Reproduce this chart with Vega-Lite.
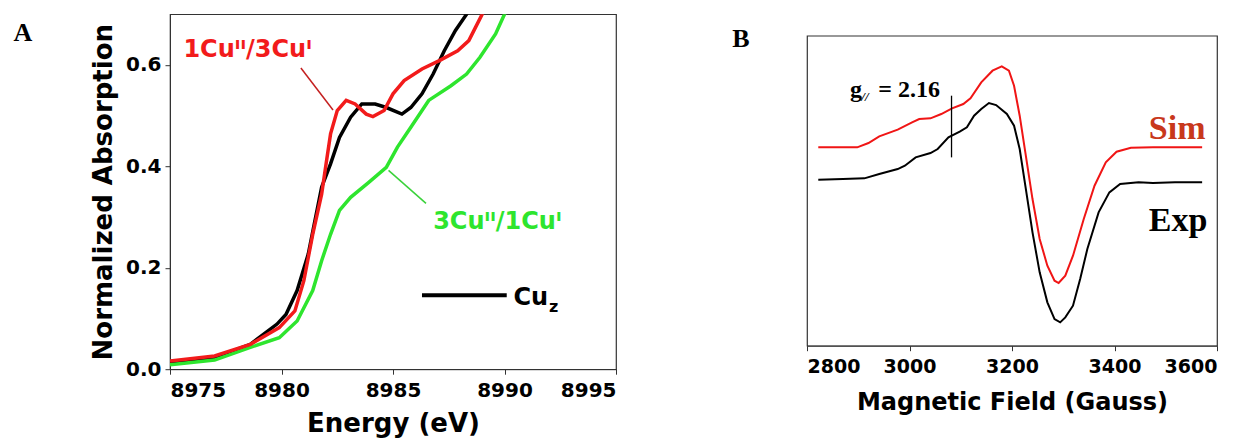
{
  "$schema": "https://vega.github.io/schema/vega-lite/v6.json",
  "padding": {"left": 12, "top": 13, "right": 3, "bottom": 2},
  "background": "white",
  "spacing": 113,
  "center": true,
  "config": {
    "view": {"stroke": "#333", "strokeWidth": 1.2},
    "axis": {
      "grid": false,
      "labelFont": "DejaVu Sans", "labelFontWeight": "bold", "labelColor": "black",
      "titleFont": "DejaVu Sans", "titleFontWeight": "bold", "titleColor": "black",
      "domainColor": "#333", "tickColor": "#333"
    }
  },
  "datasets": {
    "xanes": [
      {"series": "Cuz", "energy": 8975.0, "absorption": 0.013},
      {"series": "Cuz", "energy": 8977.0, "absorption": 0.023},
      {"series": "Cuz", "energy": 8978.6, "absorption": 0.049},
      {"series": "Cuz", "energy": 8979.8, "absorption": 0.089},
      {"series": "Cuz", "energy": 8980.2, "absorption": 0.108},
      {"series": "Cuz", "energy": 8980.7, "absorption": 0.155},
      {"series": "Cuz", "energy": 8981.2, "absorption": 0.227},
      {"series": "Cuz", "energy": 8981.5, "absorption": 0.293},
      {"series": "Cuz", "energy": 8981.8, "absorption": 0.359},
      {"series": "Cuz", "energy": 8982.2, "absorption": 0.405},
      {"series": "Cuz", "energy": 8982.6, "absorption": 0.457},
      {"series": "Cuz", "energy": 8983.1, "absorption": 0.497},
      {"series": "Cuz", "energy": 8983.6, "absorption": 0.523},
      {"series": "Cuz", "energy": 8984.2, "absorption": 0.523},
      {"series": "Cuz", "energy": 8984.7, "absorption": 0.516},
      {"series": "Cuz", "energy": 8985.4, "absorption": 0.503},
      {"series": "Cuz", "energy": 8985.8, "absorption": 0.516},
      {"series": "Cuz", "energy": 8986.3, "absorption": 0.543},
      {"series": "Cuz", "energy": 8986.8, "absorption": 0.582},
      {"series": "Cuz", "energy": 8987.3, "absorption": 0.628},
      {"series": "Cuz", "energy": 8987.8, "absorption": 0.668},
      {"series": "Cuz", "energy": 8988.3, "absorption": 0.70},
      {"series": "Cuz", "energy": 8988.6, "absorption": 0.73},
      {"series": "1CuII/3CuI", "energy": 8975.0, "absorption": 0.016},
      {"series": "1CuII/3CuI", "energy": 8977.0, "absorption": 0.026},
      {"series": "1CuII/3CuI", "energy": 8978.6, "absorption": 0.049},
      {"series": "1CuII/3CuI", "energy": 8979.9, "absorption": 0.082},
      {"series": "1CuII/3CuI", "energy": 8980.6, "absorption": 0.115},
      {"series": "1CuII/3CuI", "energy": 8981.0, "absorption": 0.174},
      {"series": "1CuII/3CuI", "energy": 8981.4, "absorption": 0.266},
      {"series": "1CuII/3CuI", "energy": 8981.8, "absorption": 0.345},
      {"series": "1CuII/3CuI", "energy": 8982.0, "absorption": 0.405},
      {"series": "1CuII/3CuI", "energy": 8982.2, "absorption": 0.464},
      {"series": "1CuII/3CuI", "energy": 8982.5, "absorption": 0.51},
      {"series": "1CuII/3CuI", "energy": 8982.9, "absorption": 0.53},
      {"series": "1CuII/3CuI", "energy": 8983.3, "absorption": 0.523},
      {"series": "1CuII/3CuI", "energy": 8983.8, "absorption": 0.503},
      {"series": "1CuII/3CuI", "energy": 8984.1, "absorption": 0.498},
      {"series": "1CuII/3CuI", "energy": 8984.6, "absorption": 0.51},
      {"series": "1CuII/3CuI", "energy": 8985.0, "absorption": 0.543},
      {"series": "1CuII/3CuI", "energy": 8985.5, "absorption": 0.569},
      {"series": "1CuII/3CuI", "energy": 8986.3, "absorption": 0.592},
      {"series": "1CuII/3CuI", "energy": 8987.1, "absorption": 0.609},
      {"series": "1CuII/3CuI", "energy": 8987.9, "absorption": 0.628},
      {"series": "1CuII/3CuI", "energy": 8988.4, "absorption": 0.648},
      {"series": "1CuII/3CuI", "energy": 8988.7, "absorption": 0.674},
      {"series": "1CuII/3CuI", "energy": 8989.0, "absorption": 0.70},
      {"series": "1CuII/3CuI", "energy": 8989.3, "absorption": 0.73},
      {"series": "3CuII/1CuI", "energy": 8975.0, "absorption": 0.009},
      {"series": "3CuII/1CuI", "energy": 8977.0, "absorption": 0.018},
      {"series": "3CuII/1CuI", "energy": 8978.6, "absorption": 0.043},
      {"series": "3CuII/1CuI", "energy": 8979.9, "absorption": 0.062},
      {"series": "3CuII/1CuI", "energy": 8980.7, "absorption": 0.095},
      {"series": "3CuII/1CuI", "energy": 8981.4, "absorption": 0.155},
      {"series": "3CuII/1CuI", "energy": 8981.8, "absorption": 0.214},
      {"series": "3CuII/1CuI", "energy": 8982.2, "absorption": 0.266},
      {"series": "3CuII/1CuI", "energy": 8982.6, "absorption": 0.313},
      {"series": "3CuII/1CuI", "energy": 8983.1, "absorption": 0.339},
      {"series": "3CuII/1CuI", "energy": 8983.9, "absorption": 0.368},
      {"series": "3CuII/1CuI", "energy": 8984.7, "absorption": 0.398},
      {"series": "3CuII/1CuI", "energy": 8985.2, "absorption": 0.438},
      {"series": "3CuII/1CuI", "energy": 8985.8, "absorption": 0.477},
      {"series": "3CuII/1CuI", "energy": 8986.6, "absorption": 0.53},
      {"series": "3CuII/1CuI", "energy": 8987.6, "absorption": 0.559},
      {"series": "3CuII/1CuI", "energy": 8988.3, "absorption": 0.582},
      {"series": "3CuII/1CuI", "energy": 8988.9, "absorption": 0.615},
      {"series": "3CuII/1CuI", "energy": 8989.6, "absorption": 0.661},
      {"series": "3CuII/1CuI", "energy": 8990.0, "absorption": 0.70},
      {"series": "3CuII/1CuI", "energy": 8990.3, "absorption": 0.73}
    ],
    "xanesText": [
      {"kind": "red", "label": "1Cuᴵᴵ/3Cuᴵ", "energy": 8975.6, "absorption": 0.629},
      {"kind": "green", "label": "3Cuᴵᴵ/1Cuᴵ", "energy": 8986.8, "absorption": 0.29},
      {"kind": "black", "label": "Cu", "energy": 8990.4, "absorption": 0.141}
    ],
    "xanesSub": [
      {"label": "z", "energy": 8992.0, "absorption": 0.122}
    ],
    "xanesPanel": [
      {"label": "A", "energy": 8968.4, "absorption": 0.663}
    ],
    "xanesLeaders": [
      {"kind": "red", "energy": 8980.87, "absorption": 0.594, "energy2": 8982.31, "absorption2": 0.511},
      {"kind": "green", "energy": 8984.8, "absorption": 0.392, "energy2": 8986.48, "absorption2": 0.327}
    ],
    "xanesLegend": [
      {"energy": 8986.3, "absorption": 0.146, "energy2": 8990.1}
    ],
    "epr": [
      {"series": "Sim", "field": 2822, "signal": 59.5},
      {"series": "Sim", "field": 2898, "signal": 59.5},
      {"series": "Sim", "field": 2920, "signal": 60.8},
      {"series": "Sim", "field": 2941, "signal": 62.8},
      {"series": "Sim", "field": 2977, "signal": 64.8},
      {"series": "Sim", "field": 3005, "signal": 67.0},
      {"series": "Sim", "field": 3019, "signal": 68.0},
      {"series": "Sim", "field": 3041, "signal": 68.2},
      {"series": "Sim", "field": 3062, "signal": 69.5},
      {"series": "Sim", "field": 3083, "signal": 71.2},
      {"series": "Sim", "field": 3105, "signal": 72.5},
      {"series": "Sim", "field": 3119, "signal": 74.2},
      {"series": "Sim", "field": 3140, "signal": 79.0},
      {"series": "Sim", "field": 3162, "signal": 82.5},
      {"series": "Sim", "field": 3180, "signal": 83.8},
      {"series": "Sim", "field": 3194, "signal": 82.5},
      {"series": "Sim", "field": 3204, "signal": 78.0},
      {"series": "Sim", "field": 3215, "signal": 69.0},
      {"series": "Sim", "field": 3226, "signal": 58.0},
      {"series": "Sim", "field": 3240, "signal": 44.0},
      {"series": "Sim", "field": 3254, "signal": 32.0},
      {"series": "Sim", "field": 3269, "signal": 24.0},
      {"series": "Sim", "field": 3283, "signal": 19.5},
      {"series": "Sim", "field": 3291, "signal": 18.8},
      {"series": "Sim", "field": 3304, "signal": 21.0},
      {"series": "Sim", "field": 3319, "signal": 27.0},
      {"series": "Sim", "field": 3340, "signal": 38.0},
      {"series": "Sim", "field": 3361, "signal": 48.0},
      {"series": "Sim", "field": 3383, "signal": 55.0},
      {"series": "Sim", "field": 3404, "signal": 58.2},
      {"series": "Sim", "field": 3432, "signal": 59.4},
      {"series": "Sim", "field": 3475, "signal": 59.5},
      {"series": "Sim", "field": 3571, "signal": 59.5},
      {"series": "Exp", "field": 2822, "signal": 49.8},
      {"series": "Exp", "field": 2870, "signal": 50.0},
      {"series": "Exp", "field": 2912, "signal": 50.2},
      {"series": "Exp", "field": 2941, "signal": 51.5},
      {"series": "Exp", "field": 2977, "signal": 53.0},
      {"series": "Exp", "field": 2991, "signal": 54.0},
      {"series": "Exp", "field": 3012, "signal": 56.5},
      {"series": "Exp", "field": 3041, "signal": 57.8},
      {"series": "Exp", "field": 3055, "signal": 59.0},
      {"series": "Exp", "field": 3076, "signal": 62.5},
      {"series": "Exp", "field": 3098, "signal": 64.2},
      {"series": "Exp", "field": 3112, "signal": 65.5},
      {"series": "Exp", "field": 3126, "signal": 69.0},
      {"series": "Exp", "field": 3140, "signal": 71.0},
      {"series": "Exp", "field": 3155, "signal": 72.8},
      {"series": "Exp", "field": 3169, "signal": 72.2},
      {"series": "Exp", "field": 3190, "signal": 69.5},
      {"series": "Exp", "field": 3204, "signal": 66.0},
      {"series": "Exp", "field": 3215, "signal": 59.0},
      {"series": "Exp", "field": 3226, "signal": 48.0},
      {"series": "Exp", "field": 3240, "signal": 34.0},
      {"series": "Exp", "field": 3254, "signal": 22.0},
      {"series": "Exp", "field": 3269, "signal": 13.0},
      {"series": "Exp", "field": 3283, "signal": 8.0},
      {"series": "Exp", "field": 3294, "signal": 7.0},
      {"series": "Exp", "field": 3304, "signal": 8.5},
      {"series": "Exp", "field": 3319, "signal": 12.0},
      {"series": "Exp", "field": 3333, "signal": 20.0},
      {"series": "Exp", "field": 3347, "signal": 29.0},
      {"series": "Exp", "field": 3369, "signal": 40.0},
      {"series": "Exp", "field": 3390, "signal": 46.0},
      {"series": "Exp", "field": 3411, "signal": 48.5},
      {"series": "Exp", "field": 3447, "signal": 49.0},
      {"series": "Exp", "field": 3475, "signal": 48.8},
      {"series": "Exp", "field": 3518, "signal": 49.0},
      {"series": "Exp", "field": 3571, "signal": 49.0}
    ],
    "eprMarker": [
      {"field": 3082, "signal": 75.0, "signal2": 56.5}
    ],
    "eprText": [
      {"label": "g", "field": 2884, "signal": 74.7},
      {"label": "= 2.16", "field": 2939, "signal": 74.7}
    ],
    "eprSub": [
      {"label": "//", "field": 2906, "signal": 73.4}
    ],
    "eprSeriesText": [
      {"label": "Sim", "field": 3467, "signal": 62.1},
      {"label": "Exp", "field": 3467, "signal": 34.5}
    ],
    "eprPanel": [
      {"label": "B", "field": 2671, "signal": 92.1}
    ]
  },
  "hconcat": [
    {
      "width": 446,
      "height": 355,
      "encoding": {
        "x": {"field": "energy", "type": "quantitative",
              "scale": {"domain": [8975, 8995], "nice": false, "zero": false},
              "axis": {"values": [8975, 8980, 8985, 8990, 8995], "format": "d", "title": "Energy (eV)",
                       "labelFontSize": 20, "titleFontSize": 26, "tickSize": 5, "labelPadding": 6, "titlePadding": 10}},
        "y": {"field": "absorption", "type": "quantitative",
              "scale": {"domain": [0, 0.7], "nice": false},
              "axis": {"values": [0, 0.2, 0.4, 0.6], "format": ".1f", "title": "Normalized Absorption",
                       "labelFontSize": 20, "titleFontSize": 26, "tickSize": 5, "labelPadding": 4, "titlePadding": 9}}
      },
      "layer": [
        {"data": {"name": "xanes"}, "transform": [{"filter": "datum.series === 'Cuz'"}],
         "mark": {"type": "line", "clip": true, "color": "black", "strokeWidth": 3.5}},
        {"data": {"name": "xanes"}, "transform": [{"filter": "datum.series === '3CuII/1CuI'"}],
         "mark": {"type": "line", "clip": true, "color": "#2ee52e", "strokeWidth": 3.5}},
        {"data": {"name": "xanes"}, "transform": [{"filter": "datum.series === '1CuII/3CuI'"}],
         "mark": {"type": "line", "clip": true, "color": "#f21b1b", "strokeWidth": 3.5}},
        {"data": {"name": "xanesLeaders"}, "transform": [{"filter": "datum.kind === 'red'"}],
         "mark": {"type": "rule", "strokeWidth": 1.5, "color": "#c42020"},
         "encoding": {"x2": {"field": "energy2"}, "y2": {"field": "absorption2"}}},
        {"data": {"name": "xanesLeaders"}, "transform": [{"filter": "datum.kind === 'green'"}],
         "mark": {"type": "rule", "strokeWidth": 1.5, "color": "#3ad23a"},
         "encoding": {"x2": {"field": "energy2"}, "y2": {"field": "absorption2"}}},
        {"data": {"name": "xanesLegend"},
         "mark": {"type": "rule", "strokeWidth": 4, "color": "black"},
         "encoding": {"x2": {"field": "energy2"}}},
        {"data": {"name": "xanesText"}, "transform": [{"filter": "datum.kind === 'red'"}],
         "mark": {"type": "text", "align": "left", "baseline": "middle", "font": "DejaVu Sans", "fontWeight": "bold", "fontSize": 24, "color": "#f21b1b"},
         "encoding": {"text": {"field": "label"}}},
        {"data": {"name": "xanesText"}, "transform": [{"filter": "datum.kind === 'green'"}],
         "mark": {"type": "text", "align": "left", "baseline": "middle", "font": "DejaVu Sans", "fontWeight": "bold", "fontSize": 24, "color": "#2ee52e"},
         "encoding": {"text": {"field": "label"}}},
        {"data": {"name": "xanesText"}, "transform": [{"filter": "datum.kind === 'black'"}],
         "mark": {"type": "text", "align": "left", "baseline": "middle", "font": "DejaVu Sans", "fontWeight": "bold", "fontSize": 24, "color": "black"},
         "encoding": {"text": {"field": "label"}}},
        {"data": {"name": "xanesSub"},
         "mark": {"type": "text", "align": "left", "baseline": "middle", "font": "DejaVu Sans", "fontWeight": "bold", "fontSize": 16, "color": "black"},
         "encoding": {"text": {"field": "label"}}},
        {"data": {"name": "xanesPanel"},
         "mark": {"type": "text", "align": "center", "baseline": "middle", "font": "Liberation Serif", "fontWeight": "bold", "fontSize": 26, "color": "black"},
         "encoding": {"text": {"field": "label"}}}
      ]
    },
    {
      "width": 410,
      "height": 310,
      "encoding": {
        "x": {"field": "field", "type": "quantitative",
              "scale": {"domain": [2800, 3600], "nice": false, "zero": false},
              "axis": {"values": [2800, 3000, 3200, 3400, 3600], "format": "d", "title": "Magnetic Field (Gauss)",
                       "labelFontSize": 19, "titleFontSize": 24, "tickSize": 5, "labelPadding": 7, "titlePadding": 14}},
        "y": {"field": "signal", "type": "quantitative",
              "scale": {"domain": [0, 93], "nice": false}, "axis": null}
      },
      "layer": [
        {"data": {"name": "epr"}, "transform": [{"filter": "datum.series === 'Exp'"}],
         "mark": {"type": "line", "color": "black", "strokeWidth": 2}},
        {"data": {"name": "epr"}, "transform": [{"filter": "datum.series === 'Sim'"}],
         "mark": {"type": "line", "color": "#f01515", "strokeWidth": 2}},
        {"data": {"name": "eprMarker"},
         "mark": {"type": "rule", "color": "black", "strokeWidth": 1.3},
         "encoding": {"y2": {"field": "signal2"}}},
        {"data": {"name": "eprText"},
         "mark": {"type": "text", "align": "left", "baseline": "alphabetic", "font": "Liberation Serif", "fontWeight": "bold", "fontSize": 24, "color": "black"},
         "encoding": {"text": {"field": "label"}}},
        {"data": {"name": "eprSub"},
         "mark": {"type": "text", "align": "left", "baseline": "alphabetic", "font": "Liberation Serif", "fontWeight": "bold", "fontStyle": "italic", "fontSize": 13, "color": "black"},
         "encoding": {"text": {"field": "label"}}},
        {"data": {"name": "eprSeriesText"}, "transform": [{"filter": "datum.label === 'Sim'"}],
         "mark": {"type": "text", "align": "left", "baseline": "alphabetic", "font": "Liberation Serif", "fontWeight": "bold", "fontSize": 34, "color": "#c8381c"},
         "encoding": {"text": {"field": "label"}}},
        {"data": {"name": "eprSeriesText"}, "transform": [{"filter": "datum.label === 'Exp'"}],
         "mark": {"type": "text", "align": "left", "baseline": "alphabetic", "font": "Liberation Serif", "fontWeight": "bold", "fontSize": 34, "color": "black"},
         "encoding": {"text": {"field": "label"}}},
        {"data": {"name": "eprPanel"},
         "mark": {"type": "text", "align": "center", "baseline": "middle", "font": "Liberation Serif", "fontWeight": "bold", "fontSize": 26, "color": "black"},
         "encoding": {"text": {"field": "label"}}}
      ]
    }
  ]
}
